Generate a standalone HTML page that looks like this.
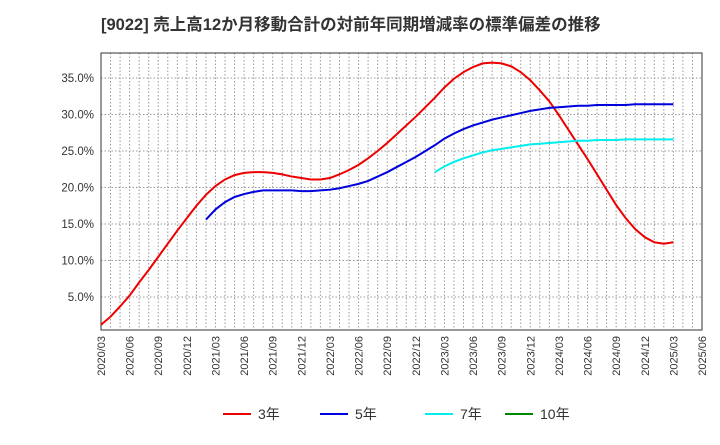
<!DOCTYPE html>
<html><head><meta charset="utf-8"><style>
body{margin:0;background:#fff;font-family:"Liberation Sans","Noto Sans CJK JP",sans-serif}
</style></head><body>
<svg width="720" height="440" xmlns="http://www.w3.org/2000/svg" id="c" font-family="Liberation Sans, Noto Sans CJK JP, sans-serif">
<text x="101" y="30" font-size="16.5" font-weight="bold" fill="#333">[9022]  売上高12か月移動合計の対前年同期増減率の標準偏差の推移</text>
<g id="grid"></g><g id="axes"></g><g id="series"></g><g id="legend"></g>
</svg>
<script>
const ticks=[5,10,15,20,25,30,35];
const s3=[1.2,2.3,3.7,5.2,7.0,8.7,10.5,12.3,14.1,15.8,17.5,19.0,20.2,21.1,21.7,22.0,22.1,22.1,22.0,21.8,21.5,21.3,21.1,21.1,21.3,21.8,22.4,23.1,24.0,25.0,26.1,27.3,28.5,29.7,31.0,32.3,33.7,34.9,35.8,36.5,37.0,37.1,37.0,36.6,35.8,34.7,33.3,31.8,29.9,27.9,25.9,23.9,21.8,19.7,17.6,15.8,14.3,13.2,12.5,12.3,12.5];
const s5=[15.6,17.0,18.0,18.7,19.1,19.4,19.6,19.6,19.6,19.6,19.5,19.5,19.6,19.7,19.9,20.2,20.5,20.9,21.5,22.1,22.8,23.5,24.2,25.0,25.8,26.7,27.4,28.0,28.5,28.9,29.3,29.6,29.9,30.2,30.5,30.7,30.9,31.0,31.1,31.2,31.2,31.3,31.3,31.3,31.3,31.4,31.4,31.4,31.4,31.4];
const s7=[22.1,22.9,23.5,24.0,24.4,24.8,25.1,25.3,25.5,25.7,25.9,26.0,26.1,26.2,26.3,26.4,26.4,26.5,26.5,26.5,26.6,26.6,26.6,26.6,26.6,26.6];
const s5start=11, s7start=35, s3start=0;
const NS="http://www.w3.org/2000/svg";
const L=101,R=702,T=53,B=330;
const X=i=>L+i*(R-L)/63;
const Y=v=>333.5-v*7.3;
function mk(p,t,a){const e=document.createElementNS(NS,t);for(const k in a)e.setAttribute(k,a[k]);document.getElementById(p).appendChild(e);return e;}
for(let i=1;i<63;i++){const g=mk('grid','line',{x1:X(i),x2:X(i),y1:T,y2:B,stroke:'#999','stroke-dasharray':'1.5,2','stroke-width':1});

}
ticks.forEach(v=>{const g=mk('grid','line',{x1:L,x2:R,y1:Y(v),y2:Y(v),stroke:'#999','stroke-dasharray':'1.5,2'});


const t=mk('axes','text',{x:L-7,y:Y(v)+4,'text-anchor':'end','font-size':11.5,fill:'#333'});t.textContent=v.toFixed(1)+'%';

});
const fr=mk('axes','rect',{x:L,y:T,width:R-L,height:B-T,fill:'none',stroke:'#333'});


for(let i=0;i<=63;i+=3){const m=3+i;const yr=2020+Math.floor((m-1)/12);const mo=((m-1)%12)+1;
const t=mk('axes','text',{transform:`translate(${X(i)+4},336) rotate(-90)`,'text-anchor':'end','font-size':11,fill:'#333'});t.textContent=yr+'/'+String(mo).padStart(2,'0');

}
function line(arr,st,col,name){const p=mk('series','polyline',{points:arr.map((v,k)=>X(st+k)+','+Y(v)).join(' '),fill:'none',stroke:col,'stroke-width':2});

}
line(s3,s3start,'#ee0000','series-3yr');line(s5,s5start,'#0000dd','series-5yr');line(s7,s7start,'#00eeee','series-7yr');
[['3年','#ee0000',223],['5年','#0000dd',320],['7年','#00eeee',425],['10年','#008800',505]].forEach(([n,c,x])=>{
const l=mk('legend','line',{x1:x,x2:x+28,y1:414,y2:414,stroke:c,'stroke-width':2});


const t=mk('legend','text',{x:x+35,y:419,'font-size':14,fill:'#333'});t.textContent=n;

});
</script>
</body></html>
